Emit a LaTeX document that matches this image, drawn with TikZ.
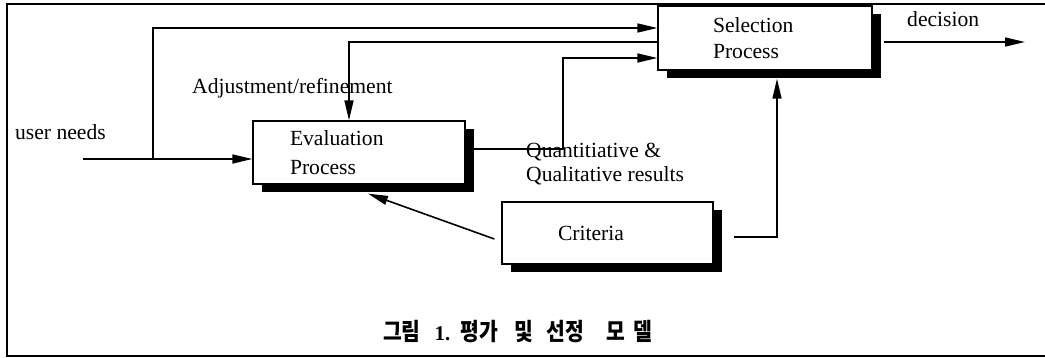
\documentclass[tikz,border=0pt]{standalone}
\usepackage{fontspec}
\setmainfont{Liberation Serif}
\newfontfamily\kr[FakeStretch=0.85]{Noto Sans CJK KR}
\usetikzlibrary{arrows.meta,shadows}
\begin{document}
\begin{tikzpicture}[x=1pt,y=-1pt,
  every node/.style={font=\fontsize{21.6}{29}\selectfont},
  procbox/.style={draw,line width=1.3pt,fill=white,align=left,inner ysep=0pt,
    drop shadow={shadow xshift=9pt,shadow yshift=-8pt,fill=black,opacity=1}},
  conn/.style={line width=1.6pt,-{Triangle[length=20pt,width=9pt]}},
  lbl/.style={anchor=base west,inner sep=0pt}]
\useasboundingbox (0,0) rectangle (1045,358);
% frame
\draw[line width=1.5pt] (1045,4) -- (7,4) -- (7,356) -- (1045,356);
% boxes
\node[procbox,text width=138pt,inner xsep=37pt,minimum height=63pt] (ev) at (359,152.5) {Evaluation\\Process};
\node[procbox,text width=104pt,inner xsep=55pt,minimum height=64pt,font=\fontsize{21.6}{26}\selectfont] (sel) at (765,38) {Selection\\Process};
\node[procbox,text width=99pt,inner xsep=56pt,minimum height=62pt] (cr) at (607.5,233) {Criteria};
% labels
\node[lbl] (un) at (15,140) {user needs};
\node[lbl] (adj) at (192,94) {Adjustment/refinement};
\node[lbl] (dec) at (907,27) {decision};
\node[lbl,align=left,font=\fontsize{21.6}{24}\selectfont] (qq) at (526,182) {Quantitiative \&\\Qualitative results};
% coordinates
\coordinate (u0) at (83,159);
\coordinate (b0) at (153,159);
\coordinate (t1) at (153,28);
\coordinate (a1) at (349,42);
\coordinate (q1) at (563,149);
\coordinate (q2) at (563,58);
\coordinate (c1) at (777,237);
\coordinate (d1) at (1025,42);
% connectors
\draw[conn] (u0) -- (u0 -| ev.west);
\draw[conn] (b0) -- (t1) -- (t1 -| sel.west);
\draw[conn] (a1 -| sel.west) -- (a1) -- (a1 |- ev.north);
\draw[conn] (q1 -| ev.east) -- (q1) -- (q2) -- (q2 -| sel.west);
\draw[conn,shorten >=8pt] ([xshift=20pt]cr.east |- c1) -- (c1) -- (c1 |- sel.south);
\draw[conn] ([shift={(-7,6)}]cr.west) -- ([shift={(9,9)}]ev.south);
\draw[conn] ([xshift=11pt]sel.east |- d1) -- (d1);
% caption
\node[anchor=base west,inner sep=0pt,font=\kr\bfseries\fontsize{24}{28}\selectfont] (cap) at (383,341)
  {그림\hspace{14pt}{\rmfamily\bfseries\fontsize{21}{24}\selectfont 1.}\hspace{10pt}평가\hspace{16pt}및\hspace{14pt}선정\hspace{22pt}모\hspace{8pt}델};
\end{tikzpicture}
\end{document}
